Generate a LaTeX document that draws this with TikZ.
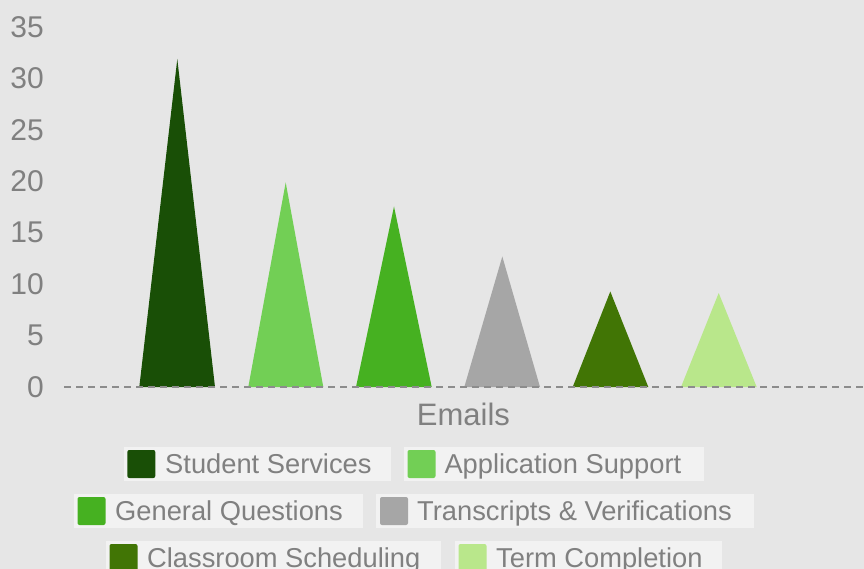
\documentclass[tikz,border=0pt]{standalone}
\usepackage{fontspec}
\setmainfont{Liberation Sans}
\definecolor{bg}{HTML}{E6E6E6}
\definecolor{txt}{HTML}{808080}
\definecolor{legbg}{HTML}{F2F2F2}
\definecolor{gridc}{HTML}{8C8C8C}
\definecolor{cSS}{HTML}{194F06}
\definecolor{cAS}{HTML}{72CF55}
\definecolor{cGQ}{HTML}{46B121}
\definecolor{cTV}{HTML}{A6A6A6}
\definecolor{cCS}{HTML}{417505}
\definecolor{cTC}{HTML}{B9E78B}
\tikzset{
  ylab/.style={anchor=east, inner sep=0, text=txt, font=\fontsize{30}{32}\selectfont},
  xlab/.style={anchor=base, inner sep=0, text=txt, font=\fontsize{31}{33}\selectfont},
  legtxt/.style={anchor=base west, inner sep=0, text=txt, font=\fontsize{27.3}{30}\selectfont},
  legbox/.style={fill=legbg},
  swatch/.style={rounded corners=2pt},
  zeroline/.style={draw=gridc, line width=2pt, dash pattern=on 7pt off 5pt}
}
\begin{document}
\begin{tikzpicture}[x=1pt,y=-1pt]
\useasboundingbox (0,0) rectangle (864,569);
\fill[bg] (0,0) rectangle (864,569);
% y axis labels
\foreach \v [count=\i from 0] in {0,5,10,15,20,25,30,35}
  \node[ylab] (y\i) at (44,{387-\i*51.43}) {\v};
% triangles
\fill[cSS] (139.3,387) -- (177.3,59) -- (215,387) -- cycle;
\fill[cAS] (248.3,387) -- (285.7,182.5) -- (323.3,387) -- cycle;
\fill[cGQ] (356,387) -- (394,206.5) -- (431.7,387) -- cycle;
\fill[cTV] (464.3,387) -- (502.3,256.5) -- (540,387) -- cycle;
\fill[cCS] (572.7,387) -- (610.3,291.5) -- (648.3,387) -- cycle;
\fill[cTC] (681,387) -- (718.7,293) -- (756.7,387) -- cycle;
% zero line
\coordinate (z0) at (64,387.3);
\coordinate (z1) at (864,387.3);
\draw[zeroline] (z0) -- (z1);
% x label
\node[xlab] (xl) at (463.4,425.3) {Emails};
% legend row 1
\fill[legbox] (124,446.7) rectangle (390.7,481.3);
\fill[cSS,swatch] (127.3,450) rectangle (155.3,478);
\node[legtxt] (l1) at (165,473.3) {Student Services};
\fill[legbox] (404,446.7) rectangle (704,481.3);
\fill[cAS,swatch] (407.5,450) rectangle (435.5,478);
\node[legtxt] (l2) at (444.3,473.3) {Application Support};
% legend row 2
\fill[legbox] (74,493.7) rectangle (362.7,528.3);
\fill[cGQ,swatch] (77.5,497) rectangle (105.5,525);
\node[legtxt] (l3) at (115,520.3) {General Questions};
\fill[legbox] (376,493.7) rectangle (754,528.3);
\fill[cTV,swatch] (380,497) rectangle (408,525);
\node[legtxt] (l4) at (417,520.3) {Transcripts \& Verifications};
% legend row 3
\fill[legbox] (106,540.7) rectangle (441,575.3);
\fill[cCS,swatch] (109.5,544) rectangle (137.5,572);
\node[legtxt] (l5) at (147,567.3) {Classroom Scheduling};
\fill[legbox] (455,540.7) rectangle (721.7,575.3);
\fill[cTC,swatch] (458.5,544) rectangle (486.5,572);
\node[legtxt] (l6) at (496,567.3) {Term Completion};
\end{tikzpicture}
\end{document}
